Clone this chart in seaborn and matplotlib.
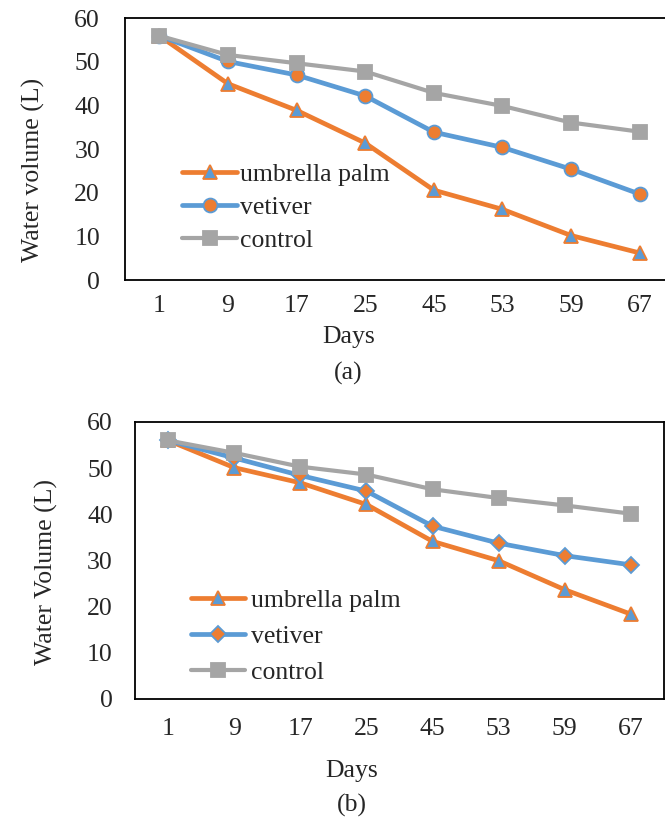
import matplotlib
matplotlib.use("Agg")
import matplotlib.pyplot as plt
import seaborn as sns
import pandas as pd

days = ["1", "9", "17", "25", "45", "53", "59", "67"]

a_umbrella = [56, 45.0, 38.9, 31.4, 20.6, 16.2, 10.2, 6.2]
a_vetiver = [56, 50.1, 47.0, 42.2, 33.9, 30.4, 25.4, 19.7]
a_control = [56, 51.6, 49.7, 47.8, 42.9, 39.9, 36.1, 34.0]

b_umbrella = [56, 50.1, 46.8, 42.1, 34.1, 29.9, 23.6, 18.3]
b_vetiver = [56, 52.2, 48.4, 45.0, 37.4, 33.7, 31.0, 29.0]
b_control = [56, 53.3, 50.3, 48.6, 45.4, 43.5, 41.9, 40.1]

series_names = ["umbrella palm", "vetiver", "control"]
panel_labels = ["(a)", "(b)"]
y_labels = ["Water volume (L)", "Water Volume (L)"]
x_label = "Days"
y_ticks = [0, 10, 20, 30, 40, 50, 60]

ORANGE = "#ED7D31"
BLUE = "#5B9BD5"
GRAY = "#A5A5A5"

sns.set_style("white")
plt.rcParams["font.family"] = ["Liberation Serif", "DejaVu Serif"]

FS = 18.5

fig = plt.figure(figsize=(6.65, 8.21), dpi=100)
W, H = 665.0, 821.0

def axes_px(left, top, right, bottom):
    return fig.add_axes([left / W, 1 - bottom / H, (right - left) / W, (bottom - top) / H])

ax_a = axes_px(125, 18.3, 674, 280)
ax_b = axes_px(135, 422, 664, 698.5)

panels = [
    (ax_a, [a_umbrella, a_vetiver, a_control], "o"),
    (ax_b, [b_umbrella, b_vetiver, b_control], "D"),
]

styles = [
    dict(color=ORANGE, marker="^", markerfacecolor=BLUE, markeredgecolor=ORANGE, lw=3.4, ms=10),
    dict(color=BLUE, markerfacecolor=ORANGE, markeredgecolor=BLUE, lw=3.4, ms=10),
    dict(color=GRAY, marker="s", markerfacecolor=GRAY, markeredgecolor=GRAY, lw=3.0, ms=10),
]

for ax, data, vet_marker in panels:
    for name, vals, st in zip(series_names, data, styles):
        st = dict(st)
        if name == "vetiver":
            st["marker"] = vet_marker
            if vet_marker == "D":
                st["ms"] = 8.5
        df = pd.DataFrame({"day": days, "vol": vals})
        sns.lineplot(data=df, x="day", y="vol", sort=False, errorbar=None, ax=ax,
                     label=name, markeredgewidth=1.3, **st)
    ax.set_xlim(-0.5, 7.5)
    ax.set_ylim(0, 60)
    ax.set_yticks(y_ticks)
    ax.tick_params(axis="both", length=0, labelsize=FS)
    for sp in ax.spines.values():
        sp.set_color("black")
        sp.set_linewidth(1.3)
        sp.set_visible(True)

ax_a.tick_params(axis="x", pad=11)
ax_a.tick_params(axis="y", pad=18)
ax_b.tick_params(axis="x", pad=14)
ax_b.tick_params(axis="y", pad=16)

ax_a.set_xlabel(x_label, fontsize=FS)
ax_a.xaxis.set_label_coords(0.408, -0.174)
ax_b.set_xlabel(x_label, fontsize=FS)
ax_b.xaxis.set_label_coords(0.410, -0.224)

ax_a.set_ylabel(y_labels[0], fontsize=FS)
ax_a.yaxis.set_label_coords(-0.146, 0.42)
ax_b.set_ylabel(y_labels[1], fontsize=FS)
ax_b.yaxis.set_label_coords(-0.146, 0.458)

h, l = ax_a.get_legend_handles_labels()
ax_a.legend(h, l, loc="upper left", bbox_to_anchor=(0.104, 0.447), frameon=False,
            borderpad=0, borderaxespad=0, handlelength=2.14, handletextpad=0.12,
            labelspacing=0.38, fontsize=FS)
h, l = ax_b.get_legend_handles_labels()
ax_b.legend(h, l, loc="upper left", bbox_to_anchor=(0.106, 0.396), frameon=False,
            borderpad=0, borderaxespad=0, handlelength=2.1, handletextpad=0.23,
            labelspacing=0.5, fontsize=FS)

fig.text(348 / W, 1 - 373 / H, panel_labels[0], ha="center", va="center", fontsize=FS)
fig.text(352 / W, 1 - 805 / H, panel_labels[1], ha="center", va="center", fontsize=FS)

fig.savefig("out.png", dpi=100)
